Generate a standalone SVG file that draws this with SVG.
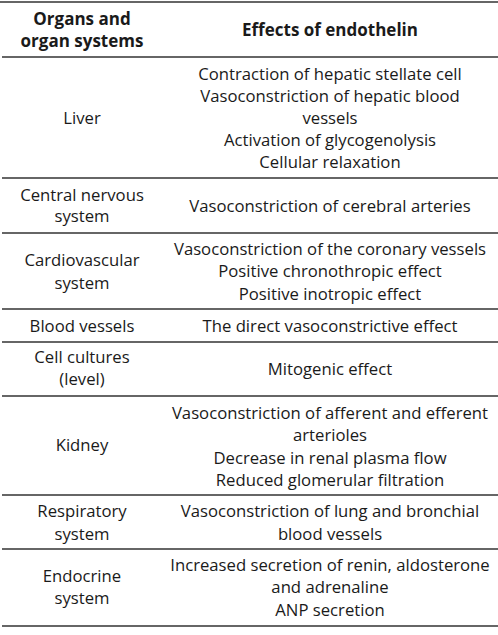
<svg xmlns="http://www.w3.org/2000/svg" width="498" height="635" viewBox="0 0 498 635">
<style>
text{font-family:"Open Sans","Liberation Sans",sans-serif;font-size:16.7px;fill:#1a1a1a;text-anchor:middle}
.h{font-weight:bold;font-size:17px}
.rule{stroke:#333;stroke-width:1.6}
</style>
<rect width="498" height="635" fill="#fff"/>
<g id="rules">
<line class="rule" x1="0" y1="2" x2="498" y2="2"/>
<line class="rule" x1="2" y1="57" x2="498" y2="57"/>
<line class="rule" x1="2" y1="178" x2="498" y2="178"/>
<line class="rule" x1="2" y1="233" x2="498" y2="233"/>
<line class="rule" x1="2" y1="309" x2="498" y2="309"/>
<line class="rule" x1="2" y1="342" x2="498" y2="342"/>
<line class="rule" x1="2" y1="396" x2="498" y2="396"/>
<line class="rule" x1="2" y1="495" x2="498" y2="495"/>
<line class="rule" x1="2" y1="549" x2="498" y2="549"/>
<line class="rule" x1="2" y1="626" x2="498" y2="626"/>
</g>
<g id="header">
<text class="h" x="82" y="25">Organs and</text>
<text class="h" x="82" y="47">organ systems</text>
<text class="h" x="330" y="36">Effects of endothelin</text>
</g>
<g id="liver">
<text x="82" y="124">Liver</text>
<text x="330" y="80">Contraction of hepatic stellate cell</text>
<text x="330" y="102">Vasoconstriction of hepatic blood</text>
<text x="330" y="124">vessels</text>
<text x="330" y="146">Activation of glycogenolysis</text>
<text x="330" y="168">Cellular relaxation</text>
</g>
<g id="cns">
<text x="82" y="201">Central nervous</text>
<text x="82" y="222">system</text>
<text x="330" y="212">Vasoconstriction of cerebral arteries</text>
</g>
<g id="cardio">
<text x="82" y="266">Cardiovascular</text>
<text x="82" y="289">system</text>
<text x="330" y="255">Vasoconstriction of the coronary vessels</text>
<text x="330" y="277">Positive chronothropic effect</text>
<text x="330" y="300">Positive inotropic effect</text>
</g>
<g id="blood-vessels">
<text x="82" y="332">Blood vessels</text>
<text x="330" y="332">The direct vasoconstrictive effect</text>
</g>
<g id="cell-cultures">
<text x="82" y="363">Cell cultures</text>
<text x="82" y="385">(level)</text>
<text x="330" y="375">Mitogenic effect</text>
</g>
<g id="kidney">
<text x="82" y="451">Kidney</text>
<text x="330" y="419">Vasoconstriction of afferent and efferent</text>
<text x="330" y="441">arterioles</text>
<text x="330" y="464">Decrease in renal plasma flow</text>
<text x="330" y="486">Reduced glomerular filtration</text>
</g>
<g id="respiratory">
<text x="82" y="517">Respiratory</text>
<text x="82" y="540">system</text>
<text x="330" y="517">Vasoconstriction of lung and bronchial</text>
<text x="330" y="540">blood vessels</text>
</g>
<g id="endocrine">
<text x="82" y="582">Endocrine</text>
<text x="82" y="604">system</text>
<text x="330" y="571">Increased secretion of renin, aldosterone</text>
<text x="330" y="593">and adrenaline</text>
<text x="330" y="616">ANP secretion</text>
</g>
</svg>
